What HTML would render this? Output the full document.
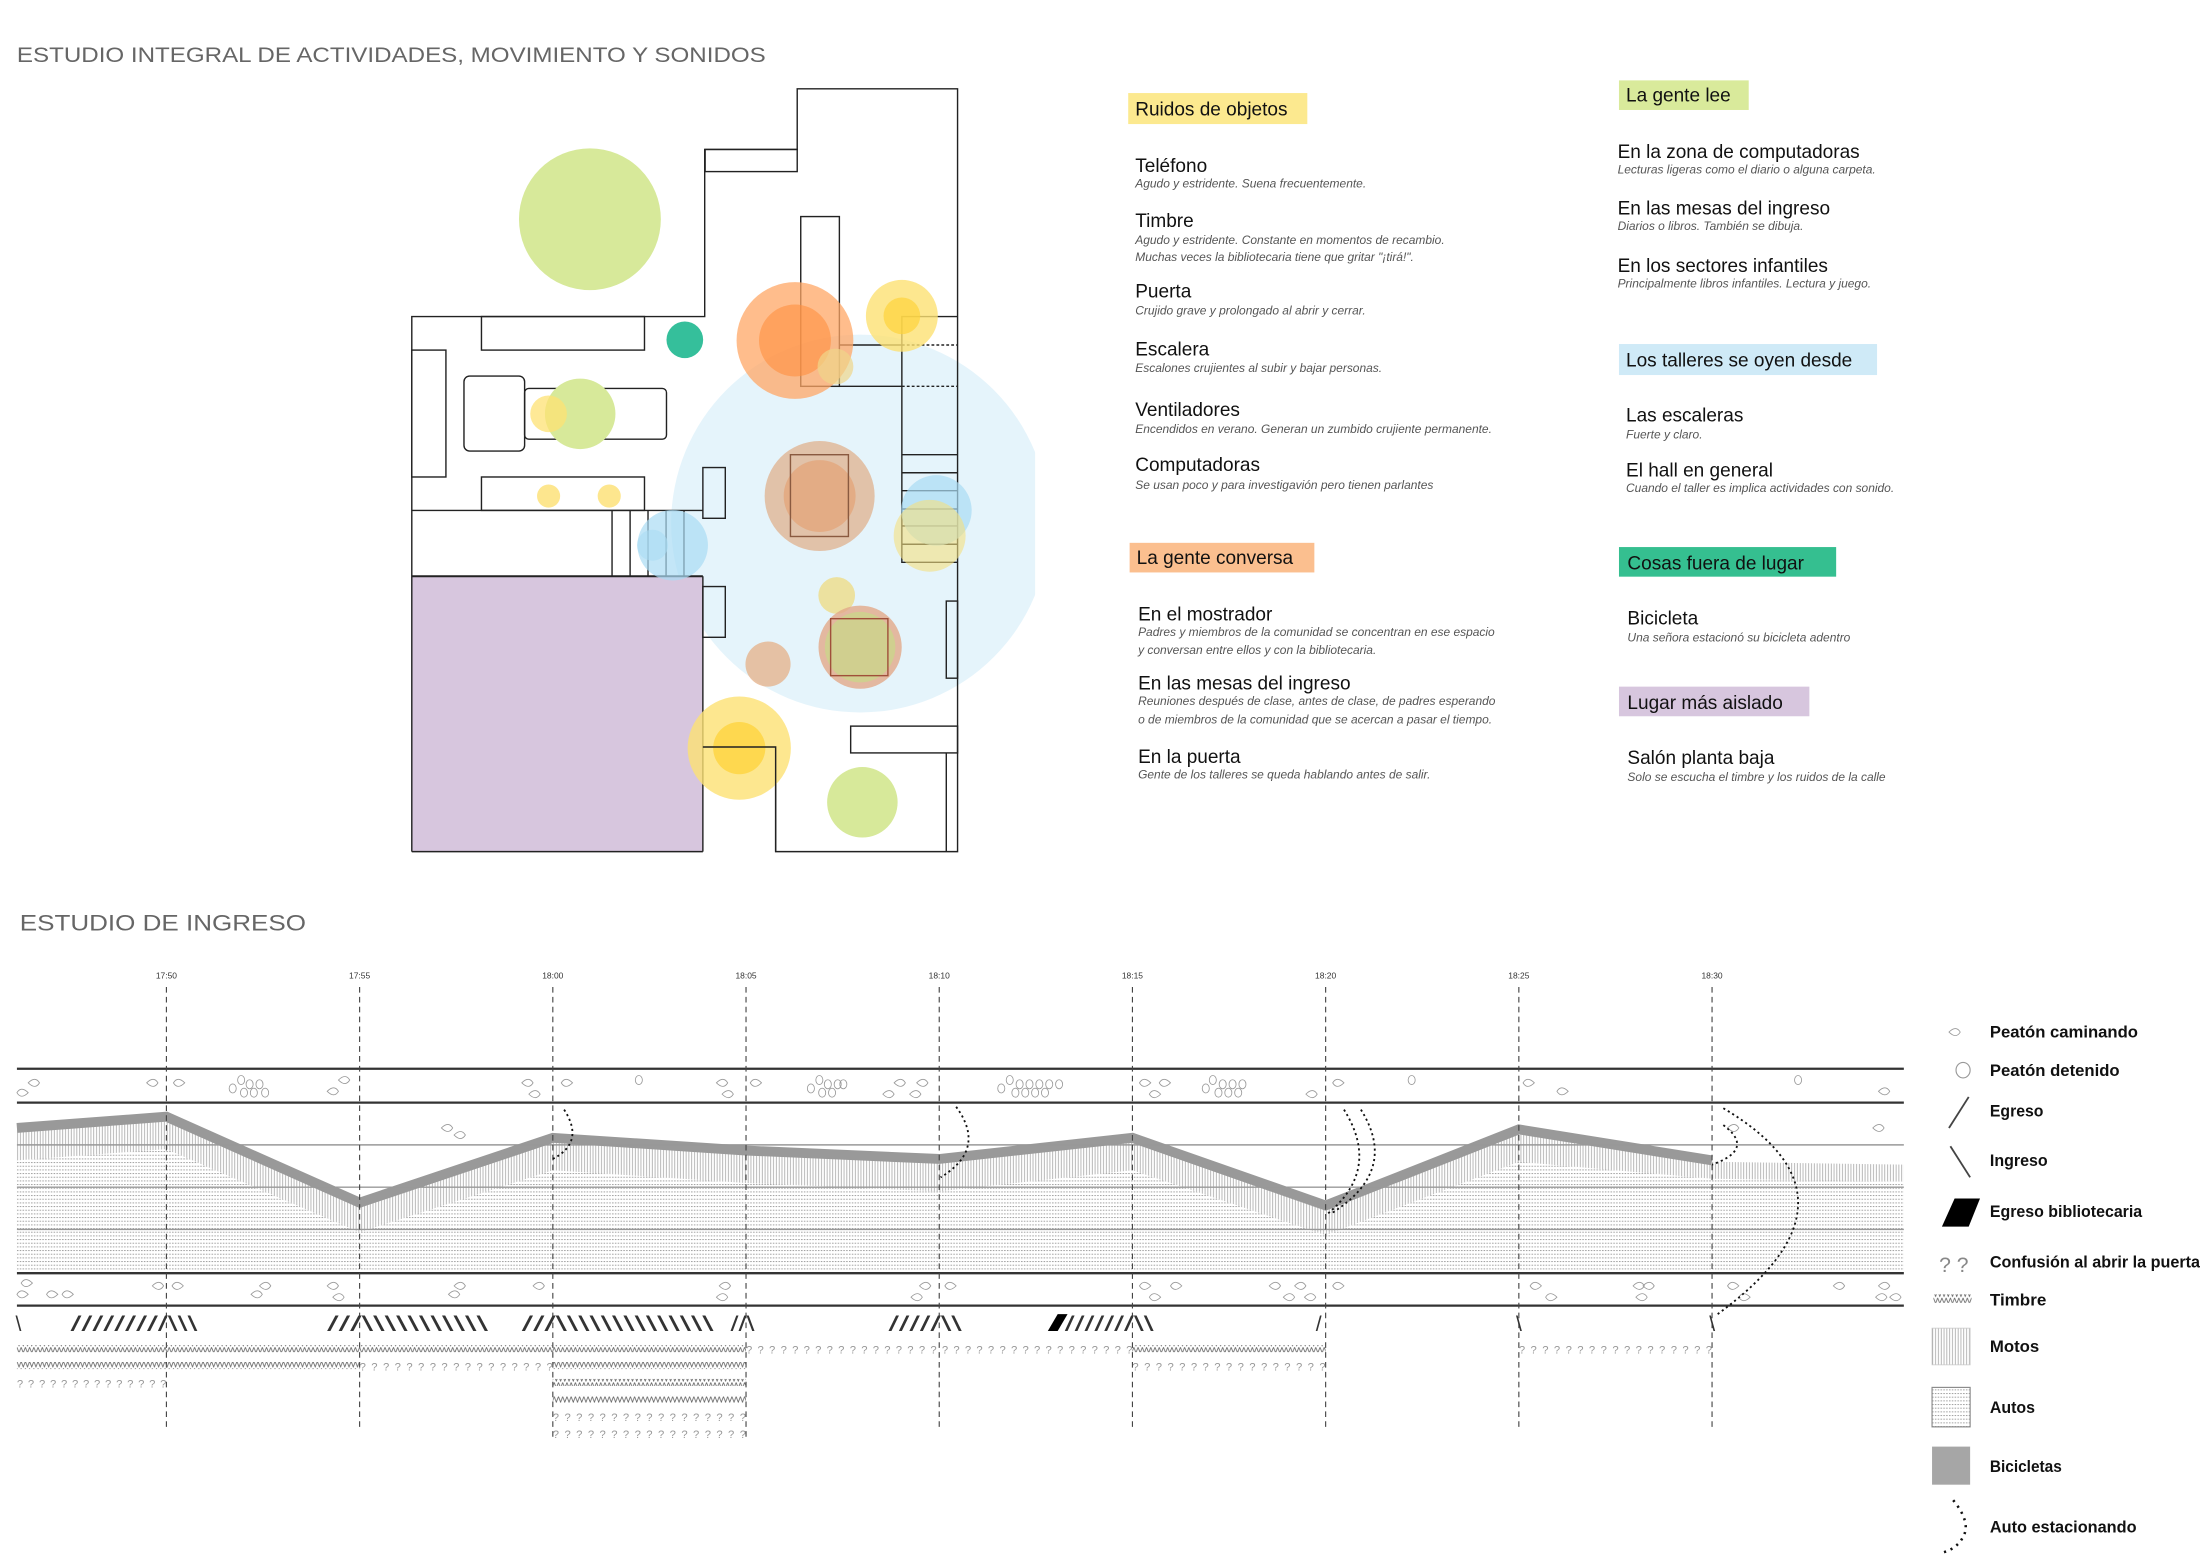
<!DOCTYPE html>
<html><head><meta charset="utf-8"><style>
html,body{margin:0;padding:0;background:#fff;}
svg{display:block;font-family:"Liberation Sans",sans-serif;}
</style></head><body>
<svg width="2200" height="1558" viewBox="0 0 1560 1105" preserveAspectRatio="none" xmlns="http://www.w3.org/2000/svg">
<defs>
<pattern id="motos" width="2" height="4" patternUnits="userSpaceOnUse"><line x1="0.5" y1="0" x2="0.5" y2="4" stroke="#9a9a9a" stroke-width="0.5"/></pattern>
<pattern id="autos" width="2" height="2.6" patternUnits="userSpaceOnUse"><rect x="0" y="0" width="1.1" height="0.7" fill="#a0a0a0"/></pattern>
<pattern id="zig" width="3" height="5" patternUnits="userSpaceOnUse"><path d="M0,0.5 L1.5,4.5 L3,0.5" fill="none" stroke="#666" stroke-width="0.6"/></pattern>
<path id="ped" d="M0,0 Q5,-5 8,0 Q5,5 0,0Z" fill="none" stroke="#999" stroke-width="0.6"/>
<path id="pedr" d="M8,0 Q3,-5 0,0 Q3,5 8,0Z" fill="none" stroke="#999" stroke-width="0.6"/>
</defs>

<text x="12" y="44" font-size="15" fill="#666" textLength="531" lengthAdjust="spacingAndGlyphs">ESTUDIO INTEGRAL DE ACTIVIDADES, MOVIMIENTO Y SONIDOS</text>
<text x="14" y="660" font-size="15.5" fill="#666" textLength="203" lengthAdjust="spacingAndGlyphs">ESTUDIO DE INGRESO</text>

<clipPath id="c1"><rect x="0" y="0" width="734" height="700"/></clipPath>
<ellipse cx="609.9" cy="371.3" rx="134" ry="134" fill="#e5f4fb" clip-path="url(#c1)"/>
<rect x="292" y="408.7" width="206.4" height="195.3" fill="#d7c6de"/>

<g fill="none" stroke="#222" stroke-width="1">
<polyline points="292,604 292,224.5 499.7,224.5 499.7,106 565.3,106 565.3,63 679,63 679,604 550,604 550,529.8 498.4,529.8"/>
<line x1="292" y1="604" x2="498.4" y2="604"/>
<line x1="498.4" y1="408.7" x2="498.4" y2="604"/>
<rect x="500" y="106" width="65.3" height="15.7"/>
<rect x="341.4" y="224.5" width="115.6" height="23.8"/>
<rect x="292" y="248.3" width="24.2" height="90"/>
<rect x="329" y="266.7" width="43" height="53.2" rx="4"/>
<rect x="372" y="275.5" width="100.6" height="36" rx="3"/>
<rect x="341.4" y="338.3" width="115.6" height="23.7"/>
<line x1="292" y1="362" x2="498.4" y2="362"/>
<line x1="292" y1="408.7" x2="498.4" y2="408.7" stroke-width="1.4"/>
<line x1="434" y1="362" x2="434" y2="408.7"/>
<line x1="446.8" y1="362" x2="446.8" y2="408.7"/>
<line x1="459.5" y1="362" x2="459.5" y2="408.7"/>
<line x1="472.3" y1="362" x2="472.3" y2="408.7"/>
<line x1="485" y1="362" x2="485" y2="408.7"/>
<rect x="498.4" y="331.6" width="15.9" height="36"/>
<rect x="498.4" y="416" width="15.9" height="36"/>
<rect x="567.8" y="153.6" width="27.4" height="120.4"/>
<line x1="595.2" y1="274" x2="639.5" y2="274"/>
<line x1="595.2" y1="244.7" x2="639.5" y2="244.7"/>
<line x1="639.5" y1="244.7" x2="679" y2="244.7" stroke-dasharray="2,1.5"/>
<line x1="639.5" y1="274" x2="679" y2="274" stroke-dasharray="2,1.5"/>
<polyline points="679,224.5 639.5,224.5 639.5,398.8 679,398.8"/>
<line x1="639.5" y1="322.5" x2="679" y2="322.5"/>
<line x1="639.5" y1="335.3" x2="679" y2="335.3"/>
<line x1="639.5" y1="348" x2="679" y2="348"/>
<line x1="639.5" y1="361" x2="679" y2="361"/>
<line x1="639.5" y1="373" x2="679" y2="373"/>
<line x1="639.5" y1="386" x2="679" y2="386"/>
<rect x="671" y="426.3" width="8" height="54.7"/>
<rect x="603.2" y="515" width="75.8" height="19"/>
<line x1="671" y1="534" x2="671" y2="604"/>
</g>

<g>
<circle cx="418.3" cy="155.5" r="50.3" fill="#d7e99a"/>
<circle cx="485.6" cy="241" r="13" fill="#35bf9b"/>
<circle cx="563.7" cy="241.5" r="41.4" fill="#ffa766" opacity="0.75"/>
<circle cx="563.7" cy="241.5" r="25.5" fill="#ff9040" opacity="0.6"/>
<circle cx="592.4" cy="260" r="12.7" fill="#f0d58a" opacity="0.7"/>
<circle cx="639.5" cy="224" r="25.5" fill="#fde173" opacity="0.8"/>
<circle cx="639.5" cy="224" r="13" fill="#fdd33a" opacity="0.7"/>
<circle cx="411.4" cy="293.5" r="25" fill="#d7e99a"/>
<circle cx="389" cy="293.5" r="13" fill="#fde173" opacity="0.75"/>
<circle cx="389" cy="351.8" r="8.2" fill="#fde68e"/>
<circle cx="432" cy="351.8" r="8.2" fill="#fde68e"/>
<circle cx="477" cy="386.7" r="25" fill="#aadcf3" opacity="0.7"/>
<circle cx="462.7" cy="386.7" r="11" fill="#aadcf3" opacity="0.6"/>
<circle cx="581.2" cy="351.8" r="39" fill="#dfad86" opacity="0.7"/>
<circle cx="581.2" cy="351.8" r="25.5" fill="#e59a68" opacity="0.55"/>
<circle cx="664" cy="362" r="25" fill="#aadcf3" opacity="0.7"/>
<circle cx="659.2" cy="380" r="25.5" fill="#f3df80" opacity="0.6"/>
<circle cx="593.3" cy="422.3" r="13" fill="#ecdf95" opacity="0.9"/>
<circle cx="544.6" cy="471" r="16" fill="#e5b48e" opacity="0.8"/>
<circle cx="609.9" cy="459" r="29.5" fill="#e2a98a" opacity="0.8"/>
<circle cx="609.9" cy="459" r="25" fill="#cdd28d" opacity="0.9"/>
<circle cx="524.2" cy="530.6" r="36.6" fill="#fde173" opacity="0.8"/>
<circle cx="524.2" cy="530.6" r="18.5" fill="#fdd33a" opacity="0.75"/>
<circle cx="611.5" cy="569" r="25" fill="#d7e99a"/>
</g>
<g fill="none" stroke="#8a5a40" stroke-width="1">
<rect x="560.5" y="322.5" width="41.1" height="58"/>
<rect x="589" y="438.8" width="40.6" height="40.4" stroke="#a0503a"/>
</g>
<g fill="none" stroke="#222" stroke-width="1">
<polyline points="498.4,529.8 550,529.8 550,604"/>
</g>

<g font-size="13.5" fill="#111">
<rect x="800" y="66" width="127" height="22" fill="#fce98f"/>
<text x="805" y="82">Ruidos de objetos</text>
<text x="805" y="122">Teléfono</text>
<text x="805" y="161">Timbre</text>
<text x="805" y="211">Puerta</text>
<text x="805" y="252">Escalera</text>
<text x="805" y="295">Ventiladores</text>
<text x="805" y="334">Computadoras</text>
<rect x="801" y="385" width="131" height="21" fill="#fbbf8f"/>
<text x="806" y="400">La gente conversa</text>
<text x="807" y="440">En el mostrador</text>
<text x="807" y="489">En las mesas del ingreso</text>
<text x="807" y="541">En la puerta</text>

<rect x="1148" y="57" width="92" height="21" fill="#d9ea9b"/>
<text x="1153" y="72">La gente lee</text>
<text x="1147" y="112">En la zona de computadoras</text>
<text x="1147" y="152">En las mesas del ingreso</text>
<text x="1147" y="193">En los sectores infantiles</text>
<rect x="1148" y="244" width="183" height="22" fill="#cfeaf7"/>
<text x="1153" y="260">Los talleres se oyen desde</text>
<text x="1153" y="299">Las escaleras</text>
<text x="1153" y="338">El hall en general</text>
<rect x="1148" y="388" width="154" height="21" fill="#35bf90"/>
<text x="1154" y="404">Cosas fuera de lugar</text>
<text x="1154" y="443">Bicicleta</text>
<rect x="1148" y="487" width="135" height="21" fill="#d7c6de"/>
<text x="1154" y="503">Lugar más aislado</text>
<text x="1154" y="542">Salón planta baja</text>
</g>
<g font-size="8.5" font-style="italic" fill="#555">
<text x="805" y="133">Agudo y estridente. Suena frecuentemente.</text>
<text x="805" y="173">Agudo y estridente. Constante en momentos de recambio.</text>
<text x="805" y="185">Muchas veces la bibliotecaria tiene que gritar "¡tirá!".</text>
<text x="805" y="223">Crujido grave y prolongado al abrir y cerrar.</text>
<text x="805" y="264">Escalones crujientes al subir y bajar personas.</text>
<text x="805" y="307">Encendidos en verano. Generan un zumbido crujiente permanente.</text>
<text x="805" y="347">Se usan poco y para investigavión  pero tienen parlantes</text>
<text x="807" y="451">Padres y miembros de la comunidad se concentran en ese espacio</text>
<text x="807" y="464">y conversan entre ellos y con la bibliotecaria.</text>
<text x="807" y="500">Reuniones después de clase, antes de clase, de padres esperando</text>
<text x="807" y="513">o de miembros de la comunidad que se acercan a pasar el tiempo.</text>
<text x="807" y="552">Gente de los talleres se queda hablando antes de salir.</text>
<text x="1147" y="123">Lecturas ligeras como el diario o alguna carpeta.</text>
<text x="1147" y="163">Diarios o libros. También se dibuja.</text>
<text x="1147" y="204">Principalmente libros infantiles. Lectura y juego.</text>
<text x="1153" y="311">Fuerte y claro.</text>
<text x="1153" y="349">Cuando el taller es implica actividades con sonido.</text>
<text x="1154" y="455">Una señora estacionó su bicicleta adentro</text>
<text x="1154" y="554">Solo se escucha el timbre y los ruidos de la calle</text>
</g>

<polygon points="12,801 118,793 255,852 392,808 529,817 666,823 803,808 940,854 1077,802 1214,824 1350,826 1350,903 12,903" fill="url(#motos)"/>
<polygon points="12,823 118,815 255,874 392,830 529,839 666,845 803,830 940,876 1077,824 1214,836 1350,838 1350,903 12,903" fill="#fff"/>
<polygon points="12,823 118,815 255,874 392,830 529,839 666,845 803,830 940,876 1077,824 1214,836 1350,838 1350,903 12,903" fill="url(#autos)"/>
<polyline points="12,800 118,792 255,853 392,807 529,816 666,822 803,807 940,855 1077,801 1214,823" fill="none" stroke="#999" stroke-width="7" stroke-linejoin="miter"/>

<g stroke="#333">
<line x1="12" y1="758" x2="1350" y2="758" stroke-width="1.6"/>
<line x1="12" y1="782" x2="1350" y2="782" stroke-width="1.6"/>
<line x1="12" y1="903" x2="1350" y2="903" stroke-width="1.6"/>
<line x1="12" y1="926" x2="1350" y2="926" stroke-width="1.6"/>
</g>
<g stroke="#999" stroke-width="1">
<line x1="12" y1="812" x2="1350" y2="812"/>
<line x1="12" y1="842" x2="1350" y2="842"/>
<line x1="12" y1="872" x2="1350" y2="872"/>
</g>

<g stroke="#444" stroke-width="0.8" stroke-dasharray="4,3">
<line x1="118" y1="700" x2="118" y2="1012"/>
<line x1="255" y1="700" x2="255" y2="1012"/>
<line x1="392" y1="700" x2="392" y2="1020"/>
<line x1="529" y1="700" x2="529" y2="1020"/>
<line x1="666" y1="700" x2="666" y2="1012"/>
<line x1="803" y1="700" x2="803" y2="1012"/>
<line x1="940" y1="700" x2="940" y2="1012"/>
<line x1="1077" y1="700" x2="1077" y2="1012"/>
<line x1="1214" y1="700" x2="1214" y2="1012"/>
</g>
<g font-size="6" fill="#333" text-anchor="middle">
<text x="118" y="694">17:50</text><text x="255" y="694">17:55</text><text x="392" y="694">18:00</text>
<text x="529" y="694">18:05</text><text x="666" y="694">18:10</text><text x="803" y="694">18:15</text>
<text x="940" y="694">18:20</text><text x="1077" y="694">18:25</text><text x="1214" y="694">18:30</text>
</g>

<g>
<use href="#ped" x="20" y="768"/><use href="#pedr" x="12" y="775"/>
<use href="#ped" x="104" y="768"/><use href="#pedr" x="123" y="768"/>
<use href="#ped" x="232" y="774"/><use href="#ped" x="240" y="766"/>
<use href="#ped" x="370" y="768"/><use href="#ped" x="375" y="776"/><use href="#pedr" x="398" y="768"/>
<use href="#ped" x="508" y="768"/><use href="#ped" x="512" y="776"/><use href="#pedr" x="532" y="768"/>
<use href="#ped" x="626" y="776"/><use href="#ped" x="634" y="768"/><use href="#ped" x="650" y="768"/><use href="#ped" x="645" y="776"/>
<use href="#pedr" x="808" y="768"/><use href="#pedr" x="822" y="768"/><use href="#pedr" x="815" y="776"/>
<use href="#pedr" x="945" y="768"/><use href="#ped" x="926" y="776"/>
<use href="#pedr" x="1080" y="768"/><use href="#pedr" x="1104" y="774"/>
<use href="#ped" x="1332" y="774"/>
</g>
<g fill="none" stroke="#999" stroke-width="0.6">
<ellipse cx="165" cy="772" rx="2.5" ry="3.2"/><ellipse cx="171" cy="766" rx="2.5" ry="3.2"/><ellipse cx="177" cy="769" rx="2.5" ry="3.2"/><ellipse cx="184" cy="769" rx="2.5" ry="3.2"/><ellipse cx="173" cy="775" rx="2.5" ry="3.2"/><ellipse cx="180" cy="775" rx="2.5" ry="3.2"/><ellipse cx="188" cy="775" rx="2.5" ry="3.2"/>
<ellipse cx="453" cy="766" rx="2.5" ry="3.2"/>
<ellipse cx="575" cy="772" rx="2.5" ry="3.2"/><ellipse cx="581" cy="766" rx="2.5" ry="3.2"/><ellipse cx="587" cy="769" rx="2.5" ry="3.2"/><ellipse cx="594" cy="769" rx="2.5" ry="3.2"/><ellipse cx="583" cy="775" rx="2.5" ry="3.2"/><ellipse cx="590" cy="775" rx="2.5" ry="3.2"/><ellipse cx="598" cy="769" rx="2.5" ry="3.2"/>
<ellipse cx="710" cy="772" rx="2.5" ry="3.2"/><ellipse cx="716" cy="766" rx="2.5" ry="3.2"/><ellipse cx="723" cy="769" rx="2.5" ry="3.2"/><ellipse cx="730" cy="769" rx="2.5" ry="3.2"/><ellipse cx="737" cy="769" rx="2.5" ry="3.2"/><ellipse cx="744" cy="769" rx="2.5" ry="3.2"/><ellipse cx="751" cy="769" rx="2.5" ry="3.2"/><ellipse cx="720" cy="775" rx="2.5" ry="3.2"/><ellipse cx="727" cy="775" rx="2.5" ry="3.2"/><ellipse cx="734" cy="775" rx="2.5" ry="3.2"/><ellipse cx="741" cy="775" rx="2.5" ry="3.2"/>
<ellipse cx="855" cy="772" rx="2.5" ry="3.2"/><ellipse cx="860" cy="766" rx="2.5" ry="3.2"/><ellipse cx="867" cy="769" rx="2.5" ry="3.2"/><ellipse cx="874" cy="769" rx="2.5" ry="3.2"/><ellipse cx="881" cy="769" rx="2.5" ry="3.2"/><ellipse cx="864" cy="775" rx="2.5" ry="3.2"/><ellipse cx="871" cy="775" rx="2.5" ry="3.2"/><ellipse cx="878" cy="775" rx="2.5" ry="3.2"/>
<ellipse cx="1001" cy="766" rx="2.5" ry="3.2"/><ellipse cx="1275" cy="766" rx="2.5" ry="3.2"/>
</g>
<g>
<use href="#ped" x="313" y="800"/><use href="#ped" x="322" y="805"/>
<use href="#ped" x="1225" y="800"/><use href="#ped" x="1328" y="800"/>
<use href="#pedr" x="15" y="910"/><use href="#pedr" x="12" y="918"/><use href="#pedr" x="33" y="918"/><use href="#pedr" x="44" y="918"/>
<use href="#ped" x="108" y="912"/><use href="#pedr" x="122" y="912"/>
<use href="#ped" x="178" y="918"/><use href="#ped" x="184" y="912"/>
<use href="#ped" x="232" y="912"/><use href="#ped" x="236" y="920"/>
<use href="#ped" x="318" y="918"/><use href="#ped" x="322" y="912"/>
<use href="#ped" x="378" y="912"/>
<use href="#ped" x="510" y="912"/><use href="#ped" x="508" y="920"/>
<use href="#ped" x="646" y="920"/><use href="#ped" x="652" y="912"/><use href="#pedr" x="670" y="912"/>
<use href="#pedr" x="808" y="912"/><use href="#pedr" x="815" y="920"/><use href="#pedr" x="830" y="912"/>
<use href="#ped" x="900" y="912"/><use href="#ped" x="910" y="920"/><use href="#ped" x="918" y="912"/><use href="#ped" x="925" y="920"/><use href="#pedr" x="945" y="912"/>
<use href="#pedr" x="1085" y="912"/><use href="#pedr" x="1096" y="920"/><use href="#ped" x="1158" y="912"/><use href="#ped" x="1165" y="912"/><use href="#ped" x="1160" y="920"/>
<use href="#pedr" x="1225" y="912"/><use href="#pedr" x="1233" y="920"/><use href="#ped" x="1300" y="912"/><use href="#ped" x="1332" y="912"/><use href="#ped" x="1340" y="920"/><use href="#ped" x="1330" y="920"/>
</g>

<g fill="none" stroke="#111" stroke-width="1.3" stroke-dasharray="1.5,2.2">
<path d="M400,787 Q415,810 392,822"/>
<path d="M678,785 Q700,815 667,835"/>
<path d="M953,787 Q980,830 940,862"/>
<path d="M965,787 Q992,830 945,860"/>
<path d="M1222,798 Q1245,815 1214,826"/>
<path d="M1222,786 Q1330,850 1218,932"/>
</g>

<g font-size="15" fill="#333">
<text x="11" y="944">\</text>
<text x="50" y="944" textLength="62" lengthAdjust="spacingAndGlyphs">////////</text>
<text x="112" y="944" textLength="28" lengthAdjust="spacingAndGlyphs">/\\\</text>
<text x="232" y="944" textLength="114" lengthAdjust="spacingAndGlyphs">///\\\\\\\\\\\</text>
<text x="370" y="944" textLength="136" lengthAdjust="spacingAndGlyphs">///\\\\\\\\\\\\\\</text>
<text x="518" y="944" textLength="17" lengthAdjust="spacingAndGlyphs">//\</text>
<text x="630" y="944" textLength="52" lengthAdjust="spacingAndGlyphs">/////\\</text>
<text x="755" y="944" textLength="63" lengthAdjust="spacingAndGlyphs">///////\\</text>
<text x="933" y="944">/</text>
<text x="1075" y="944">\</text>
<text x="1212" y="944">\</text>
</g>
<polygon points="743,944 750,932 757,932 750,944" fill="#000"/>

<g>
<rect x="12" y="954" width="517" height="5" fill="url(#zig)"/>
<rect x="803" y="954" width="137" height="5" fill="url(#zig)"/>
<rect x="12" y="966" width="243" height="5" fill="url(#zig)"/>
<rect x="392" y="966" width="137" height="5" fill="url(#zig)"/>
<rect x="392" y="978" width="137" height="5" fill="url(#zig)"/>
<rect x="392" y="990" width="137" height="5" fill="url(#zig)"/>
</g>
<g font-size="8" fill="#999">
<text x="529" y="960" textLength="274" lengthAdjust="spacing">??????????????????????????????????</text>
<text x="1077" y="960" textLength="137" lengthAdjust="spacing">?????????????????</text>
<text x="255" y="972" textLength="137" lengthAdjust="spacing">?????????????????</text>
<text x="803" y="972" textLength="137" lengthAdjust="spacing">?????????????????</text>
<text x="12" y="984" textLength="106" lengthAdjust="spacing">??????????????</text>
<text x="392" y="1008" textLength="137" lengthAdjust="spacing">?????????????????</text>
<text x="392" y="1020" textLength="137" lengthAdjust="spacing">?????????????????</text>
</g>

<use href="#ped" x="1382" y="732"/>
<ellipse cx="1392" cy="759" rx="5" ry="5.5" fill="none" stroke="#999" stroke-width="0.8"/>
<line x1="1382" y1="800" x2="1396" y2="778" stroke="#444" stroke-width="1.3"/>
<line x1="1383" y1="813" x2="1397" y2="835" stroke="#444" stroke-width="1.3"/>
<polygon points="1377,870 1386,850 1404,850 1396,870" fill="#000"/>
<text x="1375" y="902" font-size="15" fill="#888">? ?</text>
<rect x="1371" y="918" width="27" height="6" fill="url(#zig)"/>
<rect x="1370" y="942" width="27" height="26" fill="url(#motos)" stroke="#ccc" stroke-width="0.6"/>
<rect x="1370" y="984" width="27" height="28" fill="url(#autos)" stroke="#888" stroke-width="0.8"/>
<rect x="1370" y="1026" width="27" height="27" fill="#a6a6a6"/>
<path d="M1385,1064 Q1398,1080 1392,1090 Q1388,1098 1378,1101" fill="none" stroke="#111" stroke-width="1.8" stroke-dasharray="1.5,3.5"/>
<g font-size="12" fill="#111" font-weight="bold">
<text x="1411" y="736" textLength="105" lengthAdjust="spacingAndGlyphs">Peatón caminando</text>
<text x="1411" y="763" textLength="92" lengthAdjust="spacingAndGlyphs">Peatón detenido</text>
<text x="1411" y="792" textLength="38" lengthAdjust="spacingAndGlyphs">Egreso</text>
<text x="1411" y="827" textLength="41" lengthAdjust="spacingAndGlyphs">Ingreso</text>
<text x="1411" y="863" textLength="108" lengthAdjust="spacingAndGlyphs">Egreso bibliotecaria</text>
<text x="1411" y="899" textLength="149" lengthAdjust="spacingAndGlyphs">Confusión al abrir la puerta</text>
<text x="1411" y="926" textLength="40" lengthAdjust="spacingAndGlyphs">Timbre</text>
<text x="1411" y="959" textLength="35" lengthAdjust="spacingAndGlyphs">Motos</text>
<text x="1411" y="1002" textLength="32" lengthAdjust="spacingAndGlyphs">Autos</text>
<text x="1411" y="1044" textLength="51" lengthAdjust="spacingAndGlyphs">Bicicletas</text>
<text x="1411" y="1087" textLength="104" lengthAdjust="spacingAndGlyphs">Auto estacionando</text>
</g>
</svg>
</body></html>
